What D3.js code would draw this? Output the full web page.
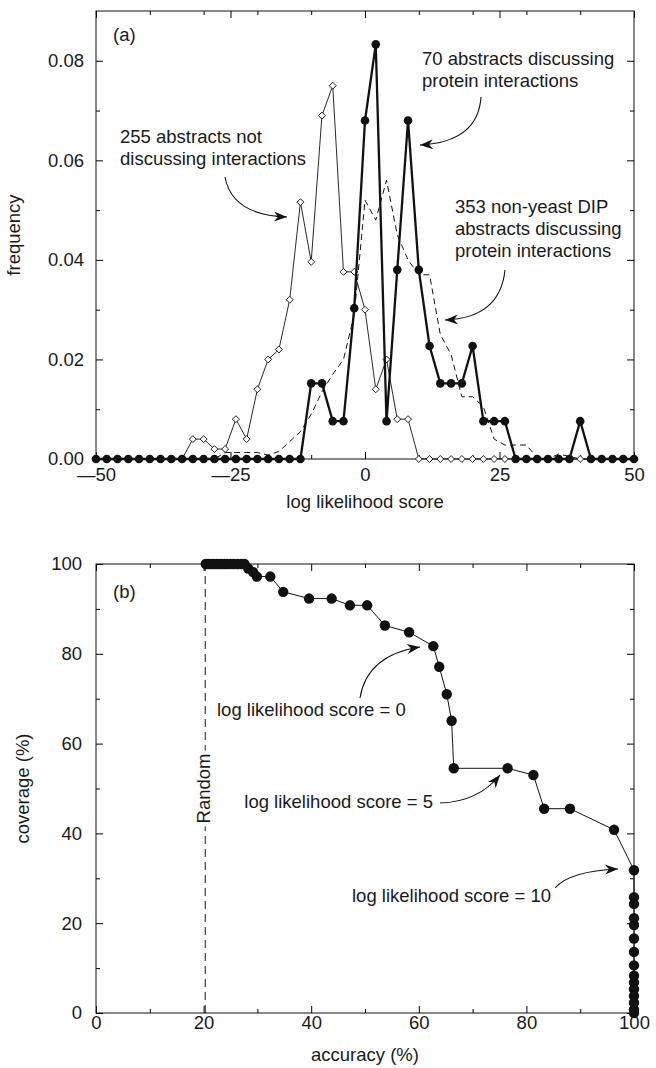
<!DOCTYPE html>
<html>
<head>
<meta charset="utf-8">
<script src="https://cdn.jsdelivr.net/npm/d3@7"></script>
<style>
  body { margin: 0; background: #fff; }
  svg { display: block; }
  text { font-family: "Liberation Sans", Arial, Helvetica, sans-serif; font-size: 18.5px; fill: #1a1a1a; }
</style>
</head>
<body>
<svg width="656" height="1068"></svg>
<script>
/*
  (a) frequency of log likelihood scores for three sets of abstracts
  (b) coverage vs accuracy when the score is used as a cut off
*/

// ---- data, panel (a) ----
var scores = [-50, -48, -46, -44, -42, -40, -38, -36, -34, -32, -30, -28, -26, -24, -22, -20, -18,
  -16, -14, -12, -10, -8, -6, -4, -2, 0, 2, 4, 6, 8, 10, 12, 14, 16, 18, 20, 22, 24, 26, 28, 30,
  32, 34, 36, 38, 40, 42, 44, 46, 48, 50];

// 255 abstracts not discussing interactions (open diamonds)
var notDiscussing = [0, 0, 0, 0, 0, 0, 0, 0, 0, 0.004, 0.004, 0.002, 0.002, 0.008, 0.004, 0.014, 0.020,
  0.022, 0.032, 0.0516, 0.0396, 0.069, 0.075, 0.0376, 0.0376, 0.030, 0.014, 0.020, 0.008, 0.008, 0, 0, 0, 0, 0, 0,
  0, 0, 0, 0, 0, 0, 0, 0, 0, 0, 0, 0, 0, 0, 0];

// 70 abstracts discussing protein interactions (filled circles, thick)
var discussing = [0, 0, 0, 0, 0, 0, 0, 0, 0, 0, 0, 0, 0, 0, 0, 0, 0, 0, 0, 0, 0.0152, 0.0152, 0.0076,
  0.0076, 0.0303, 0.068, 0.0833, 0.0076, 0.038, 0.068, 0.038, 0.0227, 0.0152, 0.0152, 0.0152, 0.0227,
  0.0076, 0.0076, 0.0076, 0, 0, 0, 0, 0, 0, 0.0076, 0, 0, 0, 0, 0];

// 353 non-yeast DIP abstracts (dashed)
var dipAbstracts = [0, 0, 0, 0, 0, 0, 0, 0, 0, 0, 0, 0, 0.0013, 0.0013, 0.0013, 0.0013, 0.0008,
  0.0015, 0.0035, 0.0055, 0.009, 0.0135, 0.017, 0.020, 0.029, 0.052, 0.048, 0.056, 0.045, 0.040, 0.037,
  0.037, 0.025, 0.021, 0.0125, 0.0125, 0.0105, 0.004, 0.0028, 0.0028, 0.0028, 0.0003, 0, 0.001, 0.0005,
  0, 0, 0, 0, 0, 0];

var xTicksA = [-50, -25, 0, 25, 50];
var xMinorA = [-40, -30, -20, -10, 10, 20, 30, 40];
var yTicksA = [0, 0.02, 0.04, 0.06, 0.08];
var yMinorA = [0.01, 0.03, 0.05, 0.07];

// ---- data, panel (b) ----
var accuracy = [20.4, 20.9, 21.4, 21.9, 22.4, 22.9, 23.4, 23.9, 24.4, 25.0, 25.6, 26.3, 27.0, 27.6,
  28.3, 29.2, 29.9, 32.4, 34.8, 39.6, 43.8, 47.2, 50.4, 53.7, 58.2, 62.7, 63.8, 65.2, 66.1, 66.5,
  76.5, 81.3, 83.3, 88.1, 96.3, 100, 100, 100, 100, 100, 100, 100, 100, 100, 100, 100, 100, 100, 100, 100];
var coverage = [100, 100, 100, 100, 100, 100, 100, 100, 100, 100, 100, 100, 100, 100,
  99.0, 98.2, 97.2, 97.2, 93.8, 92.3, 92.3, 90.8, 90.8, 86.3, 84.8, 81.7, 77.1, 71.0, 65.1, 54.5,
  54.5, 53.0, 45.5, 45.5, 40.8, 31.8, 25.8, 24.3, 21.1, 19.6, 16.6, 13.6, 10.6, 8.3, 6.8, 5.3, 3.8, 2.3, 0.8, 0];
var randomAccuracy = 20.3;

var xTicksB = [0, 20, 40, 60, 80, 100];
var xMinorB = [10, 30, 50, 70, 90];
var yTicksB = [0, 20, 40, 60, 80, 100];
var yMinorB = [10, 30, 50, 70, 90];

// ---- settings ----
var svg = d3.select("svg"),
    width = 538,
    heightA = 448,
    heightB = 449,
    gA = svg.append("g").attr("transform", "translate(96,11)"),
    gB = svg.append("g").attr("transform", "translate(96,564)");

var xA = d3.scaleLinear().domain([-50, 50]).range([0, width]),
    yA = d3.scaleLinear().domain([0, 0.09]).range([heightA, 0]),
    xB = d3.scaleLinear().domain([0, 100]).range([0, width]),
    yB = d3.scaleLinear().domain([0, 100]).range([heightB, 0]);

// arrow head
svg.append("defs").append("marker")
  .attr("id", "head")
  .attr("viewBox", "-14 -6 15 12")
  .attr("refX", 0)
  .attr("refY", 0)
  .attr("markerUnits", "userSpaceOnUse")
  .attr("markerWidth", 15)
  .attr("markerHeight", 12)
  .attr("orient", "auto")
  .append("path")
  .attr("d", "M0,0L-13,-5L-9,0L-13,5Z")
  .attr("fill", "#111");

function noDomain(sel) { sel.select(".domain").remove(); }

// ticks on all four sides, pointing inwards
function drawAxes(g, x, y, h, o) {
  g.append("g").attr("transform", "translate(0," + h + ")")
    .call(d3.axisBottom(x).tickValues(o.xMinor).tickSize(-4).tickFormat("")).call(noDomain);
  g.append("g").attr("transform", "translate(0," + h + ")")
    .call(d3.axisBottom(x).tickValues(o.xTicks).tickSize(-7).tickPadding(o.xPad).tickFormat(o.xFormat)).call(noDomain);
  g.append("g")
    .call(d3.axisTop(x).tickValues(o.xMinor).tickSize(-4).tickFormat("")).call(noDomain);
  g.append("g")
    .call(d3.axisTop(x).tickValues(o.xTicks).tickSize(-7).tickFormat("")).call(noDomain);

  g.append("g")
    .call(d3.axisLeft(y).tickValues(o.yMinor).tickSize(-4).tickFormat("")).call(noDomain);
  g.append("g")
    .call(d3.axisLeft(y).tickValues(o.yTicks).tickSize(-7).tickPadding(o.yPad).tickFormat(o.yFormat)).call(noDomain);
  g.append("g").attr("transform", "translate(" + width + ",0)")
    .call(d3.axisRight(y).tickValues(o.yMinor).tickSize(-4).tickFormat("")).call(noDomain);
  g.append("g").attr("transform", "translate(" + width + ",0)")
    .call(d3.axisRight(y).tickValues(o.yTicks).tickSize(-7).tickFormat("")).call(noDomain);

  g.append("rect")
    .attr("width", width)
    .attr("height", h)
    .attr("fill", "none")
    .attr("stroke", "#111")
    .attr("stroke-width", 1);
}

function arrow(g, p) {
  g.append("path")
    .attr("d", "M" + p[0] + "," + p[1] + "Q" + p[2] + "," + p[3] + " " + p[4] + "," + p[5])
    .attr("fill", "none")
    .attr("stroke", "#111")
    .attr("stroke-width", 1.1)
    .attr("marker-end", "url(#head)");
}

function label(g, lines, x, y, anchor) {
  lines.forEach(function(t, i) {
    g.append("text")
      .attr("x", x)
      .attr("y", y + i * 22)
      .attr("text-anchor", anchor || "start")
      .text(t);
  });
}

// ---- panel (a) ----
drawAxes(gA, xA, yA, heightA, {
  xTicks: xTicksA, xMinor: xMinorA, yTicks: yTicksA, yMinor: yMinorA,
  xFormat: function(d) { return d < 0 ? "\u2014" + Math.abs(d) : d; },
  yFormat: d3.format(".2f"), xPad: 9, yPad: 12
});

var rowsA = scores.map(function(s, i) {
  return { s: s, not: notDiscussing[i], yes: discussing[i], dip: dipAbstracts[i] };
});

function lineA(key) {
  return d3.line().x(function(d) { return xA(d.s); }).y(function(d) { return yA(d[key]); });
}

gA.append("path").datum(rowsA)
  .attr("d", lineA("dip"))
  .attr("fill", "none").attr("stroke", "#111").attr("stroke-width", 1)
  .attr("stroke-dasharray", "6,4");

gA.append("path").datum(rowsA)
  .attr("d", lineA("not"))
  .attr("fill", "none").attr("stroke", "#111").attr("stroke-width", 0.9);

gA.selectAll(".diamond")
  .data(rowsA)
  .enter()
  .append("path")
  .attr("class", "diamond")
  .attr("d", d3.symbol(d3.symbolSquare, 24))
  .attr("transform", function(d) { return "translate(" + xA(d.s) + "," + yA(d.not) + ") rotate(45)"; })
  .attr("fill", "#fff").attr("stroke", "#111").attr("stroke-width", 0.9);

gA.append("path").datum(rowsA)
  .attr("d", lineA("yes"))
  .attr("fill", "none").attr("stroke", "#111").attr("stroke-width", 2.3).attr("stroke-linejoin", "round");

gA.selectAll(".dot")
  .data(rowsA)
  .enter()
  .append("circle")
  .attr("class", "dot")
  .attr("cx", function(d) { return xA(d.s); })
  .attr("cy", function(d) { return yA(d.yes); })
  .attr("r", 4.3)
  .attr("fill", "#111");

gA.append("text").attr("x", 17).attr("y", 30).text("(a)");
label(gA, ["255 abstracts not", "discussing interactions"], 24, 132);
arrow(gA, [129, 166, 136, 204, 191, 206]);
label(gA, ["70 abstracts discussing", "protein interactions"], 326, 54);
arrow(gA, [385, 86, 382, 131, 324, 134]);
label(gA, ["353 non-yeast DIP", "abstracts discussing", "protein interactions"], 359, 202);
arrow(gA, [409, 259, 404, 307, 349, 309]);

svg.append("text")
  .attr("transform", "translate(20," + (11 + heightA / 2) + ") rotate(-90)")
  .attr("text-anchor", "middle")
  .text("frequency");
svg.append("text")
  .attr("x", 96 + width / 2)
  .attr("y", 508)
  .attr("text-anchor", "middle")
  .text("log likelihood score");

// ---- panel (b) ----
drawAxes(gB, xB, yB, heightB, {
  xTicks: xTicksB, xMinor: xMinorB, yTicks: yTicksB, yMinor: yMinorB,
  xFormat: d3.format("d"), yFormat: d3.format("d"), xPad: 3, yPad: 14
});

// random baseline
gB.append("line")
  .attr("x1", xB(randomAccuracy)).attr("x2", xB(randomAccuracy))
  .attr("y1", yB(0)).attr("y2", yB(100))
  .attr("stroke", "#111").attr("stroke-width", 1)
  .attr("stroke-dasharray", "8,5");

var rnd = gB.append("g")
  .attr("transform", "translate(" + (xB(randomAccuracy) + 5) + "," + yB(50) + ") rotate(-90)");
var rndText = rnd.append("text").attr("text-anchor", "middle").text("Random");
var bb = rndText.node().getBBox();
rnd.insert("rect", "text")
  .attr("x", bb.x - 3).attr("y", bb.y)
  .attr("width", bb.width + 6).attr("height", bb.height)
  .attr("fill", "#fff");

var rowsB = accuracy.map(function(a, i) { return { a: a, c: coverage[i] }; });

gB.append("path").datum(rowsB)
  .attr("d", d3.line().x(function(d) { return xB(d.a); }).y(function(d) { return yB(d.c); }))
  .attr("fill", "none").attr("stroke", "#111").attr("stroke-width", 1);

gB.selectAll(".dot")
  .data(rowsB)
  .enter()
  .append("circle")
  .attr("class", "dot")
  .attr("cx", function(d) { return xB(d.a); })
  .attr("cy", function(d) { return yB(d.c); })
  .attr("r", 5.2)
  .attr("fill", "#111");

gB.append("text").attr("x", 17).attr("y", 34).text("(b)");
label(gB, ["log likelihood score = 0"], 121, 152);
arrow(gB, [264, 134, 271, 91, 324, 83]);
label(gB, ["log likelihood score = 5"], 337, 244, "end");
arrow(gB, [344, 239, 382, 238, 404, 211]);
label(gB, ["log likelihood score = 10"], 256, 338);
arrow(gB, [459, 324, 474, 307, 522, 305]);

svg.append("text")
  .attr("transform", "translate(29," + (564 + heightB / 2) + ") rotate(-90)")
  .attr("text-anchor", "middle")
  .text("coverage (%)");
svg.append("text")
  .attr("x", 96 + width / 2)
  .attr("y", 1061)
  .attr("text-anchor", "middle")
  .text("accuracy (%)");
</script>
</body>
</html>
